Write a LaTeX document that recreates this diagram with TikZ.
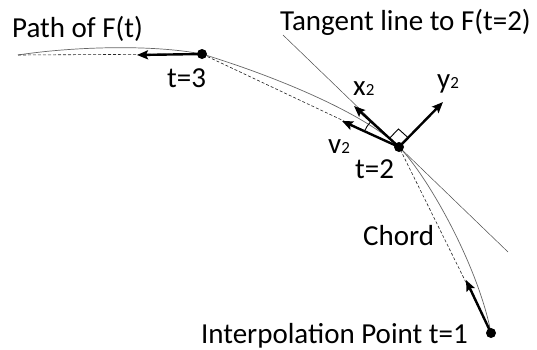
\documentclass[tikz,border=0pt]{standalone}
\usepackage{fontspec}
\setmainfont{Carlito}
\usetikzlibrary{arrows.meta}
\newcommand\lowsub[1]{{\fontsize{17}{20}\selectfont #1}}
\begin{document}
\begin{tikzpicture}[x=1pt,y=-1pt,
  lbl/.style={inner sep=0pt, anchor=base west, font=\fontsize{29}{34}\selectfont},
  curve/.style={draw=black!60, line width=0.7pt},
  chord/.style={draw=black!85, line width=0.6pt, dash pattern=on 3pt off 2pt},
  tangent/.style={draw=black!70, line width=0.5pt},
  vec/.style={line width=2.4pt, -{Stealth[length=11pt,width=9pt,inset=2pt]}},
  dot/.style={circle, fill=black, inner sep=0pt, minimum size=10pt},
  thinmark/.style={draw=black, line width=0.9pt},
]
\useasboundingbox (0,0) rectangle (537,349);
% key points
\coordinate (L) at (18,55);
\coordinate (P3) at (202,54);
\coordinate (P2) at (399,147);
\coordinate (P1) at (491,333);
\coordinate (T0) at (283,35);
\coordinate (T1) at (508,252);
\coordinate (a3) at (137,55);
\coordinate (ax2) at (354,106);
\coordinate (ay2) at (443,102);
\coordinate (av2) at (342,121);
\coordinate (a1) at (466,280);
% path of F(t)
\draw[curve] (L) .. controls (70,47) and (150,44) .. (P3)
  .. controls (265,73) and (360,110) .. (P2)
  .. controls (427,175) and (478,265) .. (P1);
% chords
\draw[chord] (L) -- (P3) -- (P2) -- (P1);
% tangent line
\draw[tangent] (T0) -- (T1);
% vectors
\draw[vec] (P3) -- (a3);
\draw[vec] (P2) -- (ax2);
\draw[vec] (P2) -- (ay2);
\draw[vec] (P2) -- (av2);
\draw[vec] (P1) -- (a1);
% right angle and angle marks
\draw[thinmark] (389.4,138.3) -- (398.5,129) -- (408.1,137.7);
\draw[thinmark] (364.4,131.2) arc[start angle=-155.5, end angle=-137.7, radius=38];
% dots
\node[dot] (d3) at (P3) {};
\node[dot] (d2) at (P2) {};
\node[dot] (d1) at (P1) {};
% labels
\node[lbl] (lpath) at (12,37) {Path of F(t)};
\node[lbl] (ltan) at (280,30) {Tangent line to F(t=2)};
\node[lbl] (lt3) at (167,87) {t=3};
\node[lbl] (lx2) at (353,95) {x\lowsub{2}};
\node[lbl] (ly2) at (437,88) {y\lowsub{2}};
\node[lbl] (lv2) at (328,153) {v\lowsub{2}};
\node[lbl] (lt2) at (355,178) {t=2};
\node[lbl] (lchord) at (363,245) {Chord};
\node[lbl, anchor=base east] (lt1) at (468,343) {Interpolation Point t=1};
\end{tikzpicture}
\end{document}
